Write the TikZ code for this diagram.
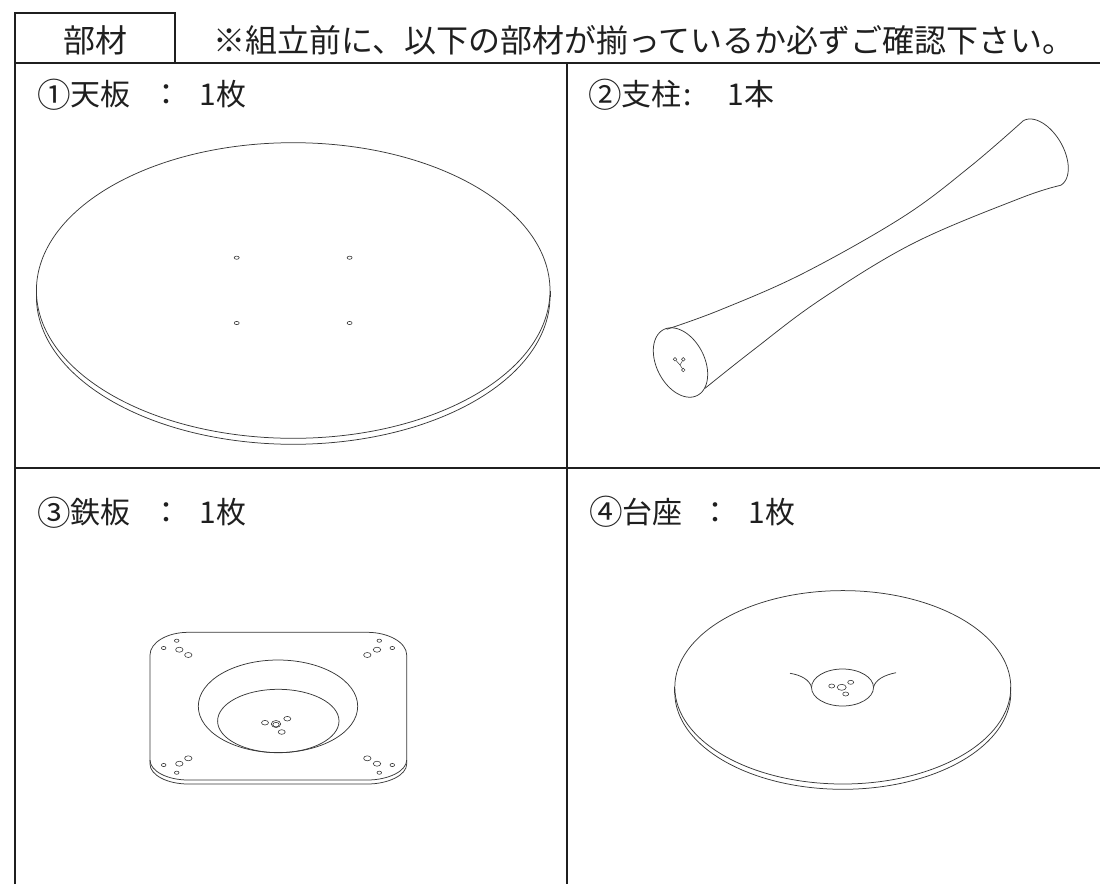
\documentclass[tikz,border=0pt]{standalone}
\usepackage{fontspec}
\usepackage{graphicx}
\setmainfont{Noto Sans CJK JP}
\newcommand{\circnum}[1]{\makebox[30pt][c]{\raisebox{-1.5pt}{\scalebox{1.12}{#1}}}}
\begin{document}
\begin{tikzpicture}[x=1pt,y=-1pt,
  frame/.style={line width=2pt, draw=black!88},
  part/.style={line width=0.75pt, draw=black!78},
  hole/.style={line width=0.6pt, draw=black!78},
  lbl/.style={anchor=base west, inner sep=0pt, text=black!88, font=\fontsize{30}{36}\selectfont},
  hdr/.style={anchor=base west, inner sep=0pt, text=black!88, font=\fontsize{32}{38}\selectfont}]
\useasboundingbox (0,0) rectangle (1100,884);

% ---------- frame ----------
\draw[frame] (15,884) -- (15,13) -- (175,13) -- (175,63);
\draw[frame] (15,63) -- (1100,63);
\draw[frame] (567,63) -- (567,884);
\draw[frame] (15,468) -- (1100,468);

% ---------- texts ----------
\node[hdr, anchor=base] (hA) at (95,52.2) {部材};
\node[hdr] (hB) at (213,52.2) {※組立前に、以下の部材が揃っているか必ずご確認下さい。};
\node[lbl] (l1) at (39,105.5) {\circnum{①}\hspace{1pt}天板\hspace{21pt}：\hspace{18.5pt}1枚};
\node[lbl] (l2) at (590,105.6) {\circnum{②}\hspace{1pt}支柱\hspace{2pt}:\hspace{36pt}1本};
\node[lbl] (l3) at (39,523.5) {\circnum{③}\hspace{1pt}鉄板\hspace{21pt}：\hspace{18.5pt}1枚};
\node[lbl] (l4) at (591,523.2) {\circnum{④}\hspace{1pt}台座\hspace{18pt}：\hspace{18.5pt}1枚};

% ---------- 1: table top ----------
\draw[part] (293.2,290.5) ellipse[x radius=256.8pt, y radius=147.8pt];
\draw[part] (36.4,290.5) -- (36.4,296.5);
\draw[part] (550,290.5) -- (550,296.5);
\draw[part] plot[domain=0:180, samples=90, smooth] ({293.2+256.8*cos(\x)}, {296.5+147.8*sin(\x)});
\foreach \p in {(236.7,257.7),(349.6,257.7),(236.7,323),(349.6,323)}
  \draw[hole] \p ellipse[x radius=2.5pt, y radius=1.6pt];

% ---------- 2: pole ----------
\draw[part] plot[smooth, tension=0.6] coordinates {(666.7,329.3) (720,310) (803.3,273.3) (903.3,216.7) (970,166.7) (1023.3,120.7)};
\draw[part] plot[smooth, tension=0.6] coordinates {(705,388.3) (753.3,350) (820,300) (913.3,243.3) (1020,198.3) (1060.7,185.3)};
\draw[part] plot[domain=-180:0, samples=50, smooth] ({1042+37.3*cos(\x)*0.5-21.4*sin(\x)*0.866}, {153+37.3*cos(\x)*0.866+21.4*sin(\x)*0.5});
\draw[part] plot[domain=0:360, samples=72, smooth cycle] ({680.5+37*cos(\x)*0.454-24*sin(\x)*0.891}, {362.5+37*cos(\x)*0.891+24*sin(\x)*0.454});
\draw[hole, line width=0.5pt] (675,359.3) -- (680,365) -- (683.3,359.3) (680,365) -- (683.3,370);
\foreach \p in {(675,359.3),(683.3,359.3),(683.3,370)}
  \draw[hole, fill=white, line width=0.5pt] \p circle[radius=1.8pt];

% ---------- 3: iron plate ----------
\draw[part] (150,655) .. controls (150,642.5) and (167.1,632.3) .. (188.3,632.3) -- (367.3,632.3)
  .. controls (388.5,632.3) and (406.7,642.5) .. (406.7,655) -- (406.7,760)
  .. controls (406.7,771) and (388.5,780) .. (367.3,780) -- (188.3,780)
  .. controls (167.1,780) and (150,771) .. (150,760) -- cycle;
\draw[part] (150,760) -- (150,764) .. controls (150,775) and (167.1,784) .. (188.3,784) -- (367.3,784)
  .. controls (388.5,784) and (406.7,775) .. (406.7,764) -- (406.7,760);
\draw[part] (278,706.3) ellipse[x radius=79.7pt, y radius=46.3pt];
\draw[part] (278.3,721) ellipse[x radius=60.7pt, y radius=31.7pt];
\draw[hole] (276,724) ellipse[x radius=4.7pt, y radius=3.5pt];
\draw[hole] (276,724.6) ellipse[x radius=3.2pt, y radius=2.3pt];
\foreach \p in {(265,722.7),(287.3,718.7),(281.7,732)}
  \draw[hole] \p ellipse[x radius=3.5pt, y radius=2.3pt];
\foreach \p in {(176.7,640.7),(163.7,648),(379.3,640.7),(392.3,648),(163.7,765),(176.7,772.7),(392.3,765),(379.3,772.7)}
  \draw[hole] \p ellipse[x radius=2.3pt, y radius=1.6pt];
\foreach \p in {(179.3,649.7),(188.3,655),(377,649.7),(367.3,655),(179.3,763.7),(188.3,758.3),(377,763.7),(367.3,758.3)}
  \draw[hole] \p ellipse[x radius=3.7pt, y radius=2.5pt];

% ---------- 4: base ----------
\draw[part] (842.8,687.3) ellipse[x radius=168pt, y radius=96.7pt];
\draw[part] (674.8,687.3) -- (674.8,692.6);
\draw[part] (1010.8,687.3) -- (1010.8,692.6);
\draw[part] plot[domain=0:180, samples=90, smooth] ({842.8+168*cos(\x)}, {692.6+96.7*sin(\x)});
\draw[part] (842.5,687.5) ellipse[x radius=31pt, y radius=18.5pt];
\draw[part] (790,673.3) .. controls (801,675) and (810,680) .. (811.5,687.5);
\draw[part] (873.5,687.5) .. controls (875,680) and (884,675) .. (896,672.7);
\draw[hole] (841.7,687.3) ellipse[x radius=4.5pt, y radius=3pt];
\foreach \p in {(831.7,686),(850.7,682.3),(845.7,694)}
  \draw[hole] \p ellipse[x radius=3pt, y radius=2pt];
\end{tikzpicture}
\end{document}
